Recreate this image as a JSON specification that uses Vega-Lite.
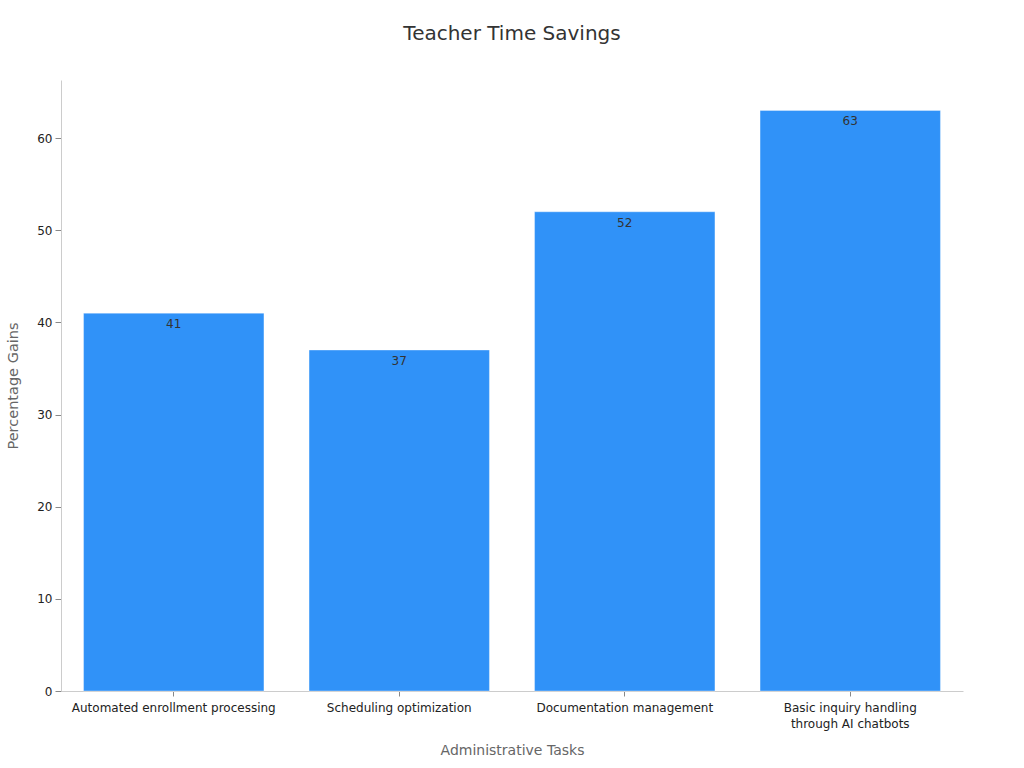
{
  "$schema": "https://vega.github.io/schema/vega-lite/v6.json",
  "autosize": {"type": "none"},
  "width": 902,
  "height": 611,
  "padding": {"left": 61, "top": 80, "right": 61, "bottom": 77},
  "background": "white",
  "config": {"view": {"stroke": null}, "font": "DejaVu Sans"},
  "title": {"text": "Teacher Time Savings", "fontSize": 20, "fontWeight": "normal", "color": "#333333", "offset": 36, "font": "DejaVu Sans"},
  "data": {"values": [
    {"task": "Automated enrollment processing", "gain": 41},
    {"task": "Scheduling optimization", "gain": 37},
    {"task": "Documentation management", "gain": 52},
    {"task": "Basic inquiry handling through AI chatbots", "gain": 63}
  ]},
  "encoding": {
    "x": {"field": "task", "type": "nominal", "sort": null,
      "scale": {"paddingInner": 0.2, "paddingOuter": 0.1},
      "axis": {"title": "Administrative Tasks", "labelAngle": 0, "labelFontSize": 12, "labelColor": "#222222",
        "labelExpr": "datum.label == 'Basic inquiry handling through AI chatbots' ? ['Basic inquiry handling', 'through AI chatbots'] : datum.label",
        "labelLineHeight": 16,
        "titleFontSize": 14, "titleFontWeight": "normal", "titleColor": "#666666", "titlePadding": 14,
        "domainColor": "#cccccc", "tickColor": "#888888", "tickSize": 5, "labelPadding": 6, "labelLimit": 300}},
    "y": {"field": "gain", "type": "quantitative", "scale": {"domain": [0, 66.3], "nice": false},
      "axis": {"title": "Percentage Gains", "values": [0, 10, 20, 30, 40, 50, 60], "grid": false, "labelFontSize": 12, "labelColor": "#222222",
        "titleFontSize": 14.5, "titleFontWeight": "normal", "titleColor": "#666666", "titlePadding": 16,
        "domainColor": "#cccccc", "tickColor": "#888888", "tickSize": 6, "labelPadding": 3}}
  },
  "layer": [
    {"mark": {"type": "bar", "color": "#3092f8", "stroke": "#ffffff", "strokeOpacity": 0.35, "strokeWidth": 1}},
    {"mark": {"type": "text", "baseline": "middle", "dy": 11, "fontSize": 12, "color": "#333333"},
      "encoding": {"text": {"field": "gain", "type": "quantitative"}}}
  ]
}
